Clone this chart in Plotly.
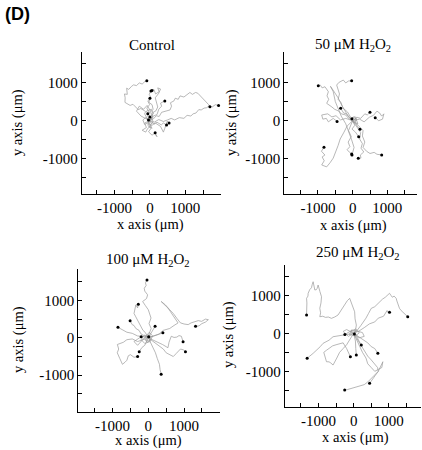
import plotly.graph_objects as go

# ---------------- data (µm) ----------------
PANEL_TITLES = ["Control", "50 μM H<sub>2</sub>O<sub>2</sub>", "100 μM H<sub>2</sub>O<sub>2</sub>", "250 μM H<sub>2</sub>O<sub>2</sub>"]
TICK_VALS = [-1500, -1000, -500, 0, 500, 1000, 1500]
TICK_TEXT = ["", "-1000", "", "0", "", "1000", ""]

CONTROL_TRACKS = [
    [(0,0),(-80,60),(-150,180),(-120,240),(-260,320),(-330,290),(-480,430),(-560,400),(-706,480),(-700,600),(-720,700),(-640,690),(-658,852),(-600,820),(-520,900),(-462,939),(-380,920),(-300,990),(-220,960),(-150,1020),(-88,1045)],
    [(0,0),(90,40),(180,130),(260,110),(330,220),(450,260),(568,282),(610,380),(580,470),(680,520),(715,589),(800,560),(850,650),(960,620),(1058,676),(1130,740),(1200,690),(1290,740),(1353,720),(1420,660),(1480,600),(1549,545),(1600,480),(1660,420),(1695,368)],
    [(0,0),(120,-40),(250,30),(380,-20),(490,18),(600,60),(700,20),(830,80),(960,62),(1050,140),(1157,123),(1220,180),(1300,200),(1380,290),(1450,282),(1530,330),(1600,340),(1680,390),(1760,360),(1850,420),(1940,395)],
    [(0,0),(-60,120),(-20,220),(-90,330),(-10,420),(-60,520),(30,600),(-20,690),(29,780)],
    [(0,0),(60,100),(20,230),(90,300),(60,420),(-30,480),(0,590)],
    [(0,0),(80,80),(60,200),(170,260),(220,360),(150,600),(250,720),(300,830),(220,860),(260,760),(160,700),(110,820),(59,790)],
    [(0,0),(90,120),(200,160),(250,300),(330,380),(300,460),(420,518)],
    [(0,0),(120,-90),(200,-40),(320,-110),(380,-60),(470,-113)],
    [(0,0),(-60,-120),(30,-200),(-40,-290),(60,-380),(130,-330),(200,-420),(147,-315)],
    [(0,0),(-150,-60),(-100,-180),(-220,-250),(-120,-300),(-60,-200),(60,-120),(150,-60),(300,-150),(380,-300),(420,-200),(490,-10),(540,-60)],
    [(0,0),(-120,80),(-200,20),(-150,-100),(-40,-40),(50,80),(-30,150),(-100,250),(40,300),(100,180),(0,100)],
    [(0,0),(-250,120),(-380,250),(-300,380),(-180,300),(-80,400),(20,250),(-60,180)],
    [(0,0),(40,-80),(-30,-150),(60,-200),(-20,-60),(-80,40),(30,90),(90,-20),(20,-120),(-60,-80),(0,40),(70,60),(-40,20)],
]

H2O2_50_TRACKS = [
    [(0,0),(-120,60),(-200,150),(-330,180),(-400,250),(-520,300),(-600,360),(-749,455),(-690,560),(-740,650),(-700,760),(-798,890),(-880,860),(-930,930),(-991,916)],
    [(0,0),(-80,120),(-150,230),(-280,330),(-340,480),(-420,560),(-380,700),(-461,934),(-400,1000),(-271,1065),(-200,990),(-120,1040),(-29,1047)],
    [(0,0),(-90,70),(-180,180),(-260,200),(-346,325)],
    [(0,0),(-200,60),(-350,20),(-480,130),(-600,100),(-720,180),(-893,150),(-860,40),(-760,60),(-700,-30),(-560,60),(-450,-20)],
    [(0,0),(120,90),(230,60),(350,180),(420,150),(499,220)],
    [(0,0),(200,40),(330,-30),(480,90),(600,140),(700,250),(780,200),(836,120),(900,180),(860,40),(750,0),(650,80)],
    [(0,0),(80,-60),(130,-140),(210,-225)],
    [(0,0),(60,-120),(-20,-220),(80,-300),(173,-419)],
    [(0,0),(-60,-150),(-120,-260),(-40,-420),(-130,-560),(-80,-680),(-160,-760),(-100,-820),(-29,-872)],
    [(0,0),(140,-180),(230,-310),(200,-480),(280,-600),(240,-720),(320,-820),(220,-900),(240,-980),(161,-984)],
    [(0,0),(160,-120),(300,-260),(280,-400),(350,-560),(300,-700),(400,-800),(500,-860),(620,-830),(700,-880),(836,-898)],
    [(0,0),(-160,-140),(-250,-300),(-360,-480),(-420,-650),(-500,-820),(-560,-980),(-650,-1100),(-750,-1210),(-893,-1160),(-820,-1050),(-880,-950),(-800,-900),(-900,-800),(-827,-697)],
    [(0,0),(-150,150),(-300,380),(-420,600),(-550,780),(-640,900),(-560,760),(-500,500),(-420,300),(-330,120),(-200,-80),(-100,-300),(-30,-500),(40,-700),(-20,-900)],
    [(0,0),(100,60),(60,-40),(150,-80),(100,40),(20,100),(-60,30),(30,-60),(120,20),(70,110),(-20,50)],
]

H2O2_100_TRACKS = [
    [(0,0),(30,130),(80,250),(20,380),(76,530),(40,650),(0,750),(-80,860),(-159,971),(-90,1020),(-50,1050),(-19,1149),(-70,1220),(-100,1250),(-113,1326),(-60,1400),(-80,1470),(-37,1547)],
    [(0,0),(150,60),(300,100),(420,200),(600,250),(720,330),(833,398),(760,500),(700,600),(620,700),(550,796),(450,880),(360,971),(420,930),(480,880),(600,750),(700,650),(800,520),(900,400),(1000,370),(1116,353),(1200,400),(1300,420),(1400,460),(1493,440),(1600,500),(1682,485),(1600,420),(1500,380),(1420,320),(1323,308)],
    [(0,0),(-100,60),(-200,100),(-260,200),(-350,250),(-400,330),(-450,350),(-510,459)],
    [(0,0),(-90,150),(-150,200),(-230,330),(-300,450),(-350,560),(-400,650),(-370,760),(-350,880),(-300,800),(-280,900)],
    [(0,0),(-150,40),(-300,50),(-450,120),(-600,150),(-720,220),(-850,281)],
    [(0,0),(-150,-60),(-300,-100),(-450,-30),(-600,-50),(-700,-120),(-800,-150),(-867,-178),(-830,-300),(-870,-400),(-800,-550),(-725,-708),(-650,-650),(-600,-600),(-560,-480),(-500,-450),(-400,-520),(-300,-500)],
    [(0,0),(-50,-100),(-100,-200),(-180,-260),(-255,-371)],
    [(0,0),(60,-120),(100,-200),(150,-320),(200,-400),(250,-550),(312,-708),(330,-850),(360,-973)],
    [(0,0),(120,-50),(250,-100),(400,-180),(550,-265),(580,-120),(643,42),(720,10),(800,20),(860,60),(926,42),(960,-30),(974,-106)],
    [(0,0),(150,-100),(300,-200),(420,-300),(500,-400),(600,-450),(700,-500),(780,-420),(900,-300),(980,-320),(1040,-371)],
    [(0,0),(60,100),(120,200),(190,308)],
    [(0,0),(100,30),(200,50),(300,100),(408,133)],
    [(0,0),(-100,80),(-200,-50),(-100,-150),(50,-100),(120,50),(30,150),(-80,30),(-300,-200),(-400,-100),(-200,30)],
    [(0,0),(60,-60),(-40,-120),(-100,-20),(-20,80),(80,40),(20,-90),(-70,-60),(10,30)],
]

H2O2_250_TRACKS = [
    [(0,0),(60,120),(76,218),(40,380),(28,568),(-10,650),(-50,750),(-90,850),(-113,921),(-180,860),(-200,830),(-255,745),(-300,680),(-350,600),(-400,540),(-445,482),(-540,430),(-632,395),(-720,430),(-800,420),(-880,450),(-963,437),(-940,540),(-963,658),(-930,800),(-915,963),(-960,1100),(-1011,1271),(-1040,1180),(-1060,1150),(-1105,1140),(-1120,1260),(-1153,1358),(-1180,1280),(-1200,1200),(-1250,1150),(-1295,1053),(-1300,980),(-1340,921),(-1330,800),(-1330,700),(-1350,600),(-1340,482)],
    [(0,0),(100,80),(200,200),(280,300),(350,400),(420,520),(501,658),(600,700),(680,780),(737,832),(820,900),(900,950),(960,1000),(1020,1053),(1060,1000),(1100,950),(1150,980),(1209,921),(1230,850),(1250,800),(1280,720),(1303,658),(1350,600),(1400,550),(1470,500),(1538,437)],
    [(0,0),(150,60),(300,150),(450,250),(600,300),(700,400),(850,450),(900,520),(950,600),(990,540),(1020,553)],
    [(0,0),(-150,-20),(-300,-50),(-450,-60),(-586,-89),(-700,-180),(-870,-263),(-950,-350),(-1000,-400),(-1080,-460),(-1153,-526),(-1250,-600),(-1323,-658)],
    [(0,0),(-100,-150),(-200,-300),(-300,-400),(-400,-500),(-480,-650),(-586,-834),(-650,-780),(-700,-750),(-773,-747),(-800,-650),(-850,-500),(-780,-450),(-700,-400),(-600,-330),(-500,-300),(-400,-280),(-300,-250),(-200,-400),(-93,-616)],
    [(0,0),(100,-150),(200,-300),(300,-450),(400,-600),(500,-700),(600,-800),(680,-900),(700,-1000),(600,-1100),(500,-1200),(400,-1280),(300,-1350),(200,-1380),(100,-1400),(0,-1430),(-100,-1450),(-180,-1480),(-255,-1492)],
    [(0,0),(150,-100),(300,-200),(400,-250),(500,-350),(600,-400),(688,-526)],
    [(0,0),(150,-300),(250,-500),(350,-650),(400,-800),(500,-900),(600,-1000),(700,-950),(800,-900),(830,-747),(780,-850),(700,-1000),(620,-1100),(550,-1200),(500,-1260),(453,-1316)],
    [(0,0),(50,-200),(60,-400),(76,-571)],
    [(0,0),(100,-100),(150,-200),(218,-308)],
    [(0,0),(-200,100),(-300,50),(-150,-80),(100,60),(250,20),(300,-80),(150,-120),(-50,80),(-250,-30)],
    [(0,0),(80,70),(-60,90),(-120,-30),(40,-70),(160,10),(60,120),(-80,40),(20,-20)],
]

PANEL_TRACKS = [CONTROL_TRACKS, H2O2_50_TRACKS, H2O2_100_TRACKS, H2O2_250_TRACKS]

# ---------------- layout geometry ----------------
W, H = 422, 450
# (x0, x1, ytop, ybottom) in pixels for each plot area
BOXES = [(82.0, 220.7, 51.7, 194.0), (284.3, 416.7, 51.7, 194.0),
         (78.3, 220.0, 269.3, 412.3), (285.0, 421.0, 265.0, 406.7)]
XRANGES = [[-1920, 2000], [-1971, 1846], [-1961, 2008], [-1953, 1915]]
YRANGES = [[-1921, 1808], [-1921, 1808], [-1991, 1832], [-1930, 1798]]
TITLE_POS = [(151.7, 45), (353, 45), (148, 260), (358, 253)]
XTITLE_POS = [(150, 224), (353, 225), (148, 440), (355, 437)]
YTITLE_POS = [(18, 123), (232, 123), (18, 340), (228, 335)]

SERIF = "Liberation Serif"
fig = go.Figure()
annotations = []
layout = {}
for i, tracks in enumerate(PANEL_TRACKS):
    xs, ys, ex, ey = [], [], [], []
    for tr in tracks:
        xs += [p[0] for p in tr] + [None]
        ys += [p[1] for p in tr] + [None]
        ex.append(tr[-1][0]); ey.append(tr[-1][1])
    xa = "x" if i == 0 else f"x{i+1}"
    ya = "y" if i == 0 else f"y{i+1}"
    fig.add_trace(go.Scatter(x=xs, y=ys, mode="lines", xaxis=xa, yaxis=ya,
                             line=dict(color="#999999", width=0.7), hoverinfo="skip", showlegend=False))
    fig.add_trace(go.Scatter(x=ex, y=ey, mode="markers", xaxis=xa, yaxis=ya,
                             marker=dict(color="black", size=3), hoverinfo="skip", showlegend=False))
    x0, x1, yt, yb = BOXES[i]
    common = dict(showline=True, linecolor="black", linewidth=1.3, ticks="inside", ticklen=4,
                  tickwidth=1.3, tickcolor="black", showgrid=False, zeroline=False,
                  tickmode="array", tickvals=TICK_VALS, ticktext=TICK_TEXT,
                  tickfont=dict(family=SERIF, size=15, color="black"))
    kx = "xaxis" if i == 0 else f"xaxis{i+1}"
    ky = "yaxis" if i == 0 else f"yaxis{i+1}"
    layout[kx] = dict(domain=[x0 / W, x1 / W], range=XRANGES[i], anchor=ya, **common)
    layout[ky] = dict(domain=[1 - yb / H, 1 - yt / H], range=YRANGES[i], anchor=xa, **common)
    tx, ty = TITLE_POS[i]
    annotations.append(dict(text=PANEL_TITLES[i], x=tx / W, y=1 - ty / H, xref="paper", yref="paper",
                            showarrow=False, font=dict(family=SERIF, size=15, color="black"),
                            xanchor="center", yanchor="middle"))
    ax_, ay_ = XTITLE_POS[i]
    annotations.append(dict(text="x axis (μm)", x=ax_ / W, y=1 - ay_ / H, xref="paper", yref="paper",
                            showarrow=False, font=dict(family=SERIF, size=14.5, color="black"),
                            xanchor="center", yanchor="middle"))
    bx, by = YTITLE_POS[i]
    annotations.append(dict(text="y axis (μm)", x=bx / W, y=1 - by / H, xref="paper", yref="paper",
                            showarrow=False, textangle=-90, font=dict(family=SERIF, size=14.5, color="black"),
                            xanchor="center", yanchor="middle"))

annotations.append(dict(text="<b>(D)</b>", x=3 / W, y=1 - 14 / H, xref="paper", yref="paper",
                        showarrow=False, font=dict(family="Liberation Sans", size=18, color="black"),
                        xanchor="left", yanchor="middle"))

fig.update_layout(width=W, height=H, margin=dict(l=0, r=0, t=0, b=0),
                  paper_bgcolor="white", plot_bgcolor="white", annotations=annotations, **layout)
fig.write_html("out.html")
